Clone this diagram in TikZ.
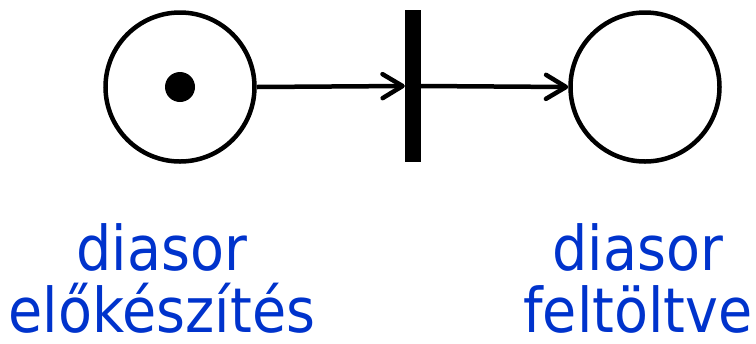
\documentclass[tikz,border=0pt]{standalone}
\usepackage{fontspec}
\setmainfont{DejaVu Sans}[FakeStretch=0.9]
\usetikzlibrary{arrows.meta, positioning}
\definecolor{lblblue}{RGB}{0,51,204}
\tikzset{
  place/.style ={circle, draw, line width=4.5bp, minimum size=149bp, inner sep=0pt},
  token/.style ={circle, fill, minimum size=30bp, inner sep=0pt},
  trans/.style ={rectangle, fill, minimum width=16bp, minimum height=152bp, inner sep=0pt},
  fl/.style    ={line width=4.5bp, -{Straight Barb[length=20bp, width=24bp, round]}},
  lbl/.style   ={font=\fontsize{62}{63}\selectfont, text=lblblue, align=center, inner sep=0pt},
}
\begin{document}
\begin{tikzpicture}[x=1bp, y=-1bp]
\useasboundingbox (0,0) rectangle (756,343);

% helyek es atmenet
\node[place] (pre) at (180,87) {};
\node[token] (tok) at (pre.center) {};
\node[trans] (t1) at (413,86) {};
\node[place] (post) at (645,87) {};

% elek
\draw[fl] (pre.east) -- (t1.west);
\draw[fl] (t1.east) -- (post.west);

% feliratok
\node[lbl, anchor=north] (lblpre) at (162,223) {diasor\\előkészítés};
\node[lbl, anchor=north] (lblpost) at (638,223) {diasor\\feltöltve};

\end{tikzpicture}
\end{document}
